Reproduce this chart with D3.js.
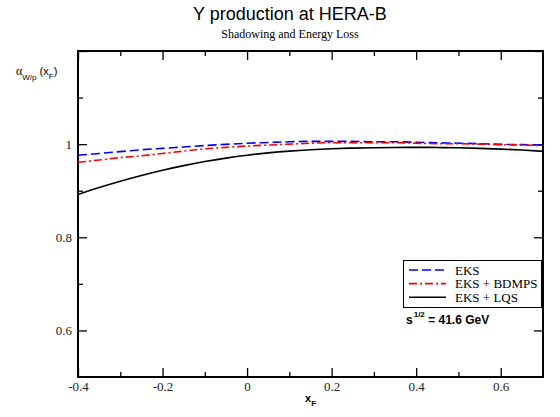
<!DOCTYPE html>
<html>
<head>
<meta charset="utf-8">
<script src="https://cdn.jsdelivr.net/npm/d3@7"></script>
<style>
  html, body { margin: 0; padding: 0; background: #fff; }
  svg { display: block; }
</style>
</head>
<body>
<svg id="chart" width="560" height="417"></svg>
<script>
// x_F sampling points shared by all three curves
const xF = [-0.4, -0.35, -0.3, -0.25, -0.2, -0.15, -0.1, -0.05, 0, 0.05, 0.1, 0.15, 0.2,
            0.25, 0.3, 0.35, 0.4, 0.45, 0.5, 0.55, 0.6, 0.65, 0.7];

// alpha_{W/p}(x_F) for each calculation
const eks = [0.976, 0.980, 0.984, 0.988, 0.991, 0.994, 0.997, 0.9995, 1.002, 1.0035, 1.005, 1.006, 1.006,
             1.006, 1.005, 1.005, 1.004, 1.003, 1.002, 1.001, 0.9995, 0.999, 0.998];
const eksBdmps = [0.961, 0.966, 0.971, 0.975, 0.980, 0.985, 0.990, 0.993, 0.996, 0.998, 1.000, 1.002, 1.003,
                  1.003, 1.003, 1.003, 1.002, 1.001, 1.001, 1.000, 0.999, 0.998, 0.997];
const eksLqs = [0.892, 0.9067, 0.9204, 0.9328, 0.9440, 0.9539, 0.9626, 0.9700, 0.9762, 0.9812, 0.9851, 0.9880,
                0.9901, 0.9915, 0.9924, 0.9929, 0.9931, 0.9928, 0.9921, 0.9910, 0.9894, 0.9873, 0.9846];

const seriesNames = ["EKS", "EKS + BDMPS", "EKS + LQS"];
const xMajorTicks = [-0.4, -0.2, 0, 0.2, 0.4, 0.6];
const xMinorTicks = [-0.3, -0.1, 0.1, 0.3, 0.5];
const yMajorTicks = [0.6, 0.8, 1, 1.2];
const yMinorTicks = [0.7, 0.9, 1.1];
const yLabelled = [0.6, 0.8, 1];

const svg = d3.select("#chart");
const L = 78, R = 543, T = 51, B = 377;

const x = d3.scaleLinear().domain([-0.4, 0.7]).range([L, R]);
const y = d3.scaleLinear().domain([0.5, 1.2]).range([B, T]);

const serif = "'Liberation Serif', 'Times New Roman', serif";
const sans = "'Liberation Sans', Arial, sans-serif";

// Titles
svg.append("text").attr("x", 290).attr("y", 20).attr("text-anchor", "middle")
  .attr("font-family", sans).attr("font-size", 18).text("Y production at HERA-B");
svg.append("text").attr("x", 290).attr("y", 38).attr("text-anchor", "middle")
  .attr("font-family", serif).attr("font-size", 12).text("Shadowing and Energy Loss");

// Axes: ticks point inward on all four sides
function styleAxis(g) {
  g.attr("font-family", serif);
  g.select(".domain").remove();
  g.selectAll("line").attr("stroke", "#000").attr("stroke-width", 1.3);
  g.selectAll("text").attr("font-family", serif).attr("font-size", 13).attr("fill", "#222");
}
// plain hyphen for negatives, "1" rather than "1.0"
const fmt = d => String(d);

svg.append("g").attr("transform", `translate(0,${B})`)
  .call(d3.axisBottom(x).tickValues(xMajorTicks).tickSize(-9).tickPadding(5).tickFormat(fmt))
  .call(styleAxis);
svg.append("g").attr("transform", `translate(0,${B})`)
  .call(d3.axisBottom(x).tickValues(xMinorTicks).tickSize(-5).tickFormat(""))
  .call(styleAxis);
svg.append("g").attr("transform", `translate(0,${T})`)
  .call(d3.axisTop(x).tickValues(xMajorTicks).tickSize(-9).tickFormat(""))
  .call(styleAxis);
svg.append("g").attr("transform", `translate(0,${T})`)
  .call(d3.axisTop(x).tickValues(xMinorTicks).tickSize(-5).tickFormat(""))
  .call(styleAxis);

svg.append("g").attr("transform", `translate(${L},0)`)
  .call(d3.axisLeft(y).tickValues(yMajorTicks).tickSize(-9).tickPadding(6)
    .tickFormat(d => (yLabelled.includes(d) ? fmt(d) : "")))
  .call(styleAxis);
svg.append("g").attr("transform", `translate(${L},0)`)
  .call(d3.axisLeft(y).tickValues(yMinorTicks).tickSize(-5).tickFormat(""))
  .call(styleAxis);
svg.append("g").attr("transform", `translate(${R},0)`)
  .call(d3.axisRight(y).tickValues(yMajorTicks).tickSize(-9).tickFormat(""))
  .call(styleAxis);
svg.append("g").attr("transform", `translate(${R},0)`)
  .call(d3.axisRight(y).tickValues(yMinorTicks).tickSize(-5).tickFormat(""))
  .call(styleAxis);

// Plot frame
svg.append("rect").attr("x", L).attr("y", T).attr("width", R - L).attr("height", B - T)
  .attr("fill", "none").attr("stroke", "#000").attr("stroke-width", 2);

// Curves
const styles = [
  { values: eks, color: "#0000ff", dash: "9,4", width: 1.6 },
  { values: eksBdmps, color: "#ff0000", dash: "8,3,2,3", width: 1.6 },
  { values: eksLqs, color: "#000000", dash: null, width: 1.6 }
];
const line = d3.line().x(d => x(d[0])).y(d => y(d[1])).curve(d3.curveMonotoneX);
styles.forEach(s => {
  svg.append("path")
    .datum(xF.map((v, i) => [v, s.values[i]]))
    .attr("d", line).attr("fill", "none")
    .attr("stroke", s.color).attr("stroke-width", s.width)
    .attr("stroke-dasharray", s.dash);
});

// Legend
const lg = svg.append("g");
lg.append("rect").attr("x", 403.5).attr("y", 260.5).attr("width", 138).attr("height", 47)
  .attr("fill", "#fff").attr("stroke", "#000").attr("stroke-width", 1);
styles.forEach((s, i) => {
  const yy = 270 + i * 13.6;
  lg.append("line").attr("x1", 409).attr("x2", 446).attr("y1", yy).attr("y2", yy)
    .attr("stroke", s.color).attr("stroke-width", s.width).attr("stroke-dasharray", s.dash);
  lg.append("text").attr("x", 455).attr("y", yy + 4.5)
    .attr("font-family", serif).attr("font-size", 13).text(seriesNames[i]);
});

// Energy annotation
const ann = svg.append("text").attr("x", 406).attr("y", 324)
  .attr("font-family", sans).attr("font-size", 12).attr("font-weight", "bold");
ann.append("tspan").text("s");
ann.append("tspan").attr("dy", -7).attr("dx", 1).attr("font-size", 8).text("1/2");
ann.append("tspan").attr("dy", 7).text(" = 41.6 GeV");

// Axis titles
const yl = svg.append("text").attr("x", 16).attr("y", 75).attr("font-family", sans).attr("font-size", 11);
yl.append("tspan").attr("font-family", serif).attr("font-size", 12).text("α");
yl.append("tspan").attr("dy", 5).attr("font-size", 8).text("W/p");
yl.append("tspan").attr("dy", -5).text(" (x");
yl.append("tspan").attr("dy", 4).attr("font-size", 8).text("F");
yl.append("tspan").attr("dy", -4).text(")");

const xl = svg.append("text").attr("x", 305).attr("y", 402).attr("font-family", sans)
  .attr("font-weight", "bold").attr("font-size", 11);
xl.append("tspan").text("x");
xl.append("tspan").attr("dy", 4).attr("font-size", 8).text("F");
</script>
</body>
</html>
